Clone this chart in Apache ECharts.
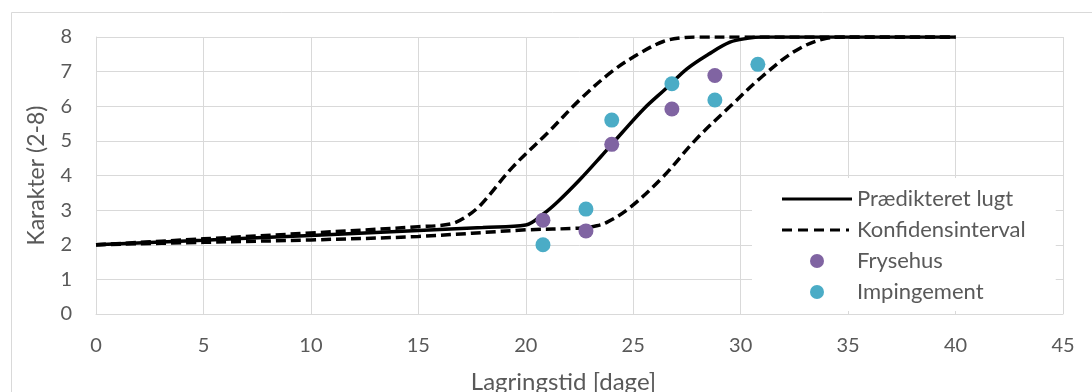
<!DOCTYPE html>
<html>
<head>
<meta charset="utf-8">
<script src="https://cdn.jsdelivr.net/npm/echarts@6/dist/echarts.min.js"></script>
<style>
  html, body { margin: 0; padding: 0; background: #fff; }
  #chart { width: 1092px; height: 392px; }
</style>
</head>
<body>
<div id="chart"></div>
<script>
// Predicted odour score over storage time (solid curve)
const predX = [0, 5, 10, 15, 18, 20, 20.8, 21.5, 22.5, 23.5, 24.5, 25.5, 26.5, 27.5, 28.5, 29.5, 30.3, 31, 32, 35, 40];
const predY = [2.0, 2.13, 2.27, 2.41, 2.5, 2.57, 2.88, 3.25, 3.87, 4.55, 5.25, 5.93, 6.5, 7.08, 7.5, 7.85, 7.96, 8.0, 8.0, 8.0, 8.0];

// Upper confidence bound
const upperX = [0, 5, 10, 15, 16.5, 17.2, 17.9, 19.4, 21, 22.5, 24, 25.3, 26.4, 27.3, 28, 30, 35, 40];
const upperY = [2.0, 2.17, 2.34, 2.52, 2.6, 2.8, 3.15, 4.25, 5.22, 6.18, 7.0, 7.53, 7.87, 7.98, 8.0, 8.0, 8.0, 8.0];

// Lower confidence bound
const lowerX = [0, 5, 10, 15, 20, 22.5, 23.3, 23.75, 24.8, 26.4, 27.9, 29.5, 31, 32.6, 34, 35, 40];
const lowerY = [2.0, 2.07, 2.14, 2.24, 2.43, 2.48, 2.55, 2.64, 3.05, 3.97, 5.03, 5.99, 6.86, 7.62, 7.96, 8.0, 8.0];

// Observed scores
const frysehusX = [20.8, 22.8, 24.0, 26.8, 28.8];
const frysehusY = [2.71, 2.40, 4.90, 5.92, 6.89];
const impingementX = [20.8, 22.8, 24.0, 26.8, 28.8, 30.8];
const impingementY = [2.0, 3.03, 5.60, 6.65, 6.18, 7.21];

// Axis ticks
const xTicks = [0, 5, 10, 15, 20, 25, 30, 35, 40, 45];
const yTicks = [0, 1, 2, 3, 4, 5, 6, 7, 8];

const zip = (xs, ys) => xs.map((x, i) => [x, ys[i]]);

const FONT = 'Lato';
const TEXT = '#595959';
const GRID = '#D9D9D9';

// Legend glyphs: a plain stroke and a dashed stroke ending in a dot
const SOLID_ICON = 'path://M0,5.5 L70,5.5 L70,8.5 L0,8.5 Z';
const DASH_ICON = 'path://M0,5.5 L10,5.5 L10,8.5 L0,8.5 Z M16,5.5 L26,5.5 L26,8.5 L16,8.5 Z M32,5.5 L42,5.5 L42,8.5 L32,8.5 Z M48,5.5 L58,5.5 L58,8.5 L48,8.5 Z M64,5.5 L67,5.5 L67,8.5 L64,8.5 Z M0,0 L0,0.01 M70,14 L70,13.99';

const chart = echarts.init(document.getElementById('chart'), null, { renderer: 'canvas' });

chart.setOption({
  animation: false,
  backgroundColor: '#fff',
  graphic: [{
    type: 'rect',
    shape: { x: 11.5, y: 12.5, width: 1200, height: 500 },
    style: { fill: 'none', stroke: GRID, lineWidth: 1 },
    silent: true,
    z: -10
  }],
  grid: { left: 96, right: 29, top: 37, bottom: 78, containLabel: false, outerBoundsMode: 'none' },
  xAxis: {
    type: 'value',
    min: xTicks[0],
    max: xTicks[xTicks.length - 1],
    interval: 5,
    name: 'Lagringstid [dage]',
    nameLocation: 'middle',
    nameGap: 56,
    nameTextStyle: { color: TEXT, fontSize: 24, fontFamily: FONT, padding: [0, 32, 0, 0] },
    axisLine: { show: true, lineStyle: { color: GRID, width: 1 } },
    axisTick: { show: false },
    axisLabel: { color: TEXT, fontSize: 20, fontFamily: FONT, margin: 22 },
    splitLine: { show: true, lineStyle: { color: GRID, width: 1 } }
  },
  yAxis: {
    type: 'value',
    min: yTicks[0],
    max: yTicks[yTicks.length - 1],
    interval: 1,
    name: 'Karakter (2-8)',
    nameLocation: 'middle',
    nameGap: 48,
    nameRotate: 90,
    nameTextStyle: { color: TEXT, fontSize: 23, fontFamily: FONT },
    axisLine: { show: true, lineStyle: { color: GRID, width: 1 } },
    axisTick: { show: false },
    axisLabel: { color: TEXT, fontSize: 20, fontFamily: FONT, margin: 24 },
    splitLine: { show: true, lineStyle: { color: GRID, width: 1 } }
  },
  legend: {
    orient: 'vertical',
    left: 752,
    top: 178,
    backgroundColor: '#fff',
    padding: [10, 30, 8, 30],
    itemWidth: 70,
    itemHeight: 14,
    itemGap: 9,
    textStyle: { color: TEXT, fontSize: 22, fontFamily: FONT },
    data: [
      { name: 'Prædikteret lugt', icon: SOLID_ICON, itemStyle: { color: '#000' } },
      { name: 'Konfidensinterval', icon: DASH_ICON, itemStyle: { color: '#000' } },
      { name: 'Frysehus', icon: 'circle' },
      { name: 'Impingement', icon: 'circle' }
    ]
  },
  series: [
    {
      name: 'Prædikteret lugt',
      type: 'line',
      data: zip(predX, predY),
      smooth: 0.35,
      showSymbol: false,
      symbol: 'none',
      lineStyle: { color: '#000', width: 3.5 },
      itemStyle: { color: '#000' },
      z: 3
    },
    {
      name: 'Konfidensinterval',
      type: 'line',
      data: zip(upperX, upperY),
      smooth: 0.35,
      showSymbol: false,
      symbol: 'none',
      lineStyle: { color: '#000', width: 3.5, type: [10, 5] },
      itemStyle: { color: '#000' },
      z: 3
    },
    {
      name: 'Konfidensinterval',
      type: 'line',
      data: zip(lowerX, lowerY),
      smooth: 0.35,
      showSymbol: false,
      symbol: 'none',
      lineStyle: { color: '#000', width: 3.5, type: [10, 5] },
      itemStyle: { color: '#000' },
      z: 3
    },
    {
      name: 'Frysehus',
      type: 'scatter',
      data: zip(frysehusX, frysehusY),
      symbolSize: 15,
      itemStyle: { color: '#8064A2', opacity: 1 },
      z: 4
    },
    {
      name: 'Impingement',
      type: 'scatter',
      data: zip(impingementX, impingementY),
      symbolSize: 15,
      itemStyle: { color: '#4BACC6', opacity: 1 },
      z: 4
    }
  ]
});
</script>
</body>
</html>
